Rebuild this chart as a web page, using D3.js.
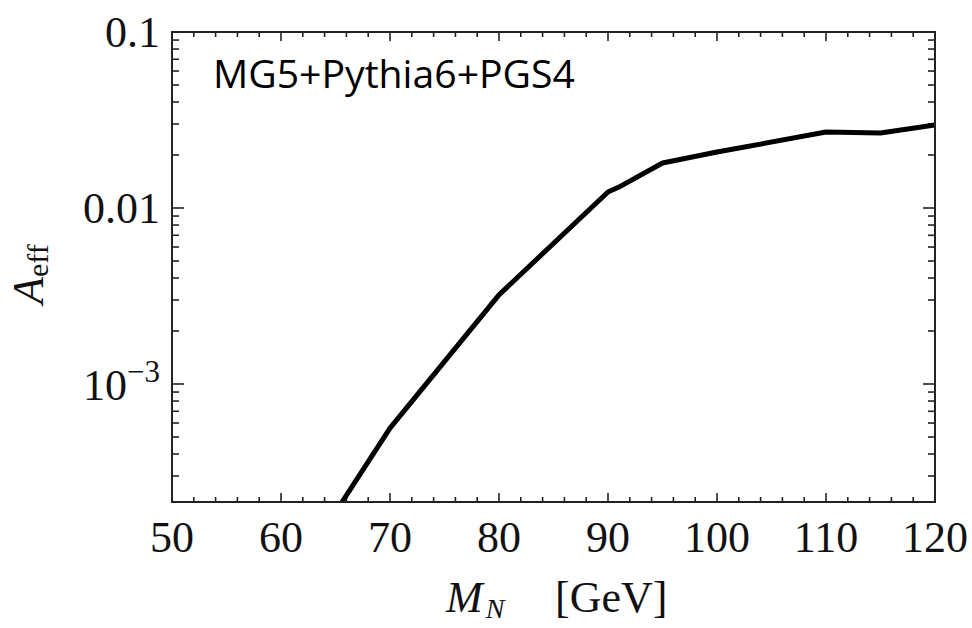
<!DOCTYPE html>
<html>
<head>
<meta charset="utf-8">
<script src="https://cdn.jsdelivr.net/npm/d3@7"></script>
<style>
  html, body { margin: 0; padding: 0; background: #fff; }
  svg { display: block; }
</style>
</head>
<body>
<svg id="chart" width="972" height="628"></svg>
<script>
// ---- data ----
const massGeV = [65, 70, 80, 90, 91, 95, 100, 110, 115, 120];
const aEff    = [1.87e-4, 5.62e-4, 3.21e-3, 0.01233, 0.01315, 0.01803, 0.0208, 0.0270, 0.0267, 0.0296];
const xTicks = [50, 60, 70, 80, 90, 100, 110, 120];
const yTicks = [0.1, 0.01, 0.001];
const annotation = "MG5+Pythia6+PGS4";

// ---- layout ----
const svg = d3.select("#chart");
const L = 172, R = 935, T = 32, B = 502;
const x = d3.scaleLinear().domain([50, 120]).range([L, R]);
const yMin = Math.pow(10, -1 - (B - T) / 176);
const y = d3.scaleLog().domain([yMin, 0.1]).range([B, T]);

const serif = "'Liberation Serif', 'DejaVu Serif', serif";
const frameColor = "#222";

// clip
svg.append("defs").append("clipPath").attr("id", "clip")
  .append("rect").attr("x", L).attr("y", T).attr("width", R - L).attr("height", B - T);

// minor/major ticks
const xMinor = d3.range(50, 120.001, 2).filter(v => v % 10 !== 0);
const yMinor = [];
[1e-4, 1e-3, 1e-2].forEach(d => { for (let k = 2; k <= 9; k++) { const v = k * d; if (v >= yMin && v <= 0.1) yMinor.push(v); } });

const tk = svg.append("g").attr("stroke", frameColor).attr("stroke-width", 1.6);
// bottom & top
xMinor.forEach(v => {
  tk.append("line").attr("x1", x(v)).attr("x2", x(v)).attr("y1", B).attr("y2", B - 5);
  tk.append("line").attr("x1", x(v)).attr("x2", x(v)).attr("y1", T).attr("y2", T + 5);
});
xTicks.forEach(v => {
  tk.append("line").attr("x1", x(v)).attr("x2", x(v)).attr("y1", B).attr("y2", B - 9);
  tk.append("line").attr("x1", x(v)).attr("x2", x(v)).attr("y1", T).attr("y2", T + 9);
});
// left & right
yMinor.forEach(v => {
  tk.append("line").attr("x1", L).attr("x2", L + 7).attr("y1", y(v)).attr("y2", y(v));
  tk.append("line").attr("x1", R).attr("x2", R - 7).attr("y1", y(v)).attr("y2", y(v));
});
yTicks.forEach(v => {
  tk.append("line").attr("x1", L).attr("x2", L + 12).attr("y1", y(v)).attr("y2", y(v));
  tk.append("line").attr("x1", R).attr("x2", R - 12).attr("y1", y(v)).attr("y2", y(v));
});

// curve
const line = d3.line().x((d, i) => x(massGeV[i])).y((d) => y(d));
svg.append("path")
  .datum(aEff)
  .attr("clip-path", "url(#clip)")
  .attr("fill", "none")
  .attr("stroke", "#000")
  .attr("stroke-width", 5)
  .attr("stroke-linejoin", "round")
  .attr("d", line);

// frame
svg.append("rect").attr("x", L).attr("y", T).attr("width", R - L).attr("height", B - T)
  .attr("fill", "none").attr("stroke", frameColor).attr("stroke-width", 2);

// x tick labels
svg.append("g").selectAll("text").data(xTicks).join("text")
  .attr("x", d => x(d)).attr("y", 552)
  .attr("text-anchor", "middle")
  .attr("font-family", serif).attr("font-size", 44).attr("fill", "#111")
  .text(d => d);

// y tick labels
const yl = svg.append("g").attr("font-family", serif).attr("font-size", 44).attr("fill", "#111");
yl.append("text").attr("x", 160).attr("y", y(0.1) + 15).attr("text-anchor", "end").text("0.1");
yl.append("text").attr("x", 160).attr("y", y(0.01) + 15).attr("text-anchor", "end").text("0.01");
const t3 = yl.append("text").attr("x", 160).attr("y", y(0.001) + 16).attr("text-anchor", "end");
t3.append("tspan").text("10");
t3.append("tspan").attr("dy", -18).attr("font-size", 31).text("\u22123");

// y axis title
const yt = svg.append("text")
  .attr("transform", "translate(43,304) rotate(-90)")
  .attr("font-family", serif).attr("font-size", 44).attr("fill", "#111");
yt.append("tspan").attr("font-style", "italic").text("A");
yt.append("tspan").attr("dy", 5).attr("font-size", 30).text("eff");

// x axis title
const xt = svg.append("text").attr("x", 446).attr("y", 612)
  .attr("font-family", serif).attr("font-size", 44).attr("fill", "#111");
xt.append("tspan").attr("font-style", "italic").text("M");
xt.append("tspan").attr("dy", 6).attr("dx", 3).attr("font-size", 28).attr("font-style", "italic").text("N");
xt.append("tspan").attr("dy", -6).attr("x", 555).text("[GeV]");

// annotation
const ann = svg.append("text").attr("x", 213).attr("y", 88)
  .attr("font-family", "'Open Sans', 'Noto Sans', sans-serif").attr("font-size", 34).attr("fill", "#000")
  .text(annotation);
const w = ann.node().getComputedTextLength();
ann.attr("font-size", 34 * 362 / w);
</script>
</body>
</html>
